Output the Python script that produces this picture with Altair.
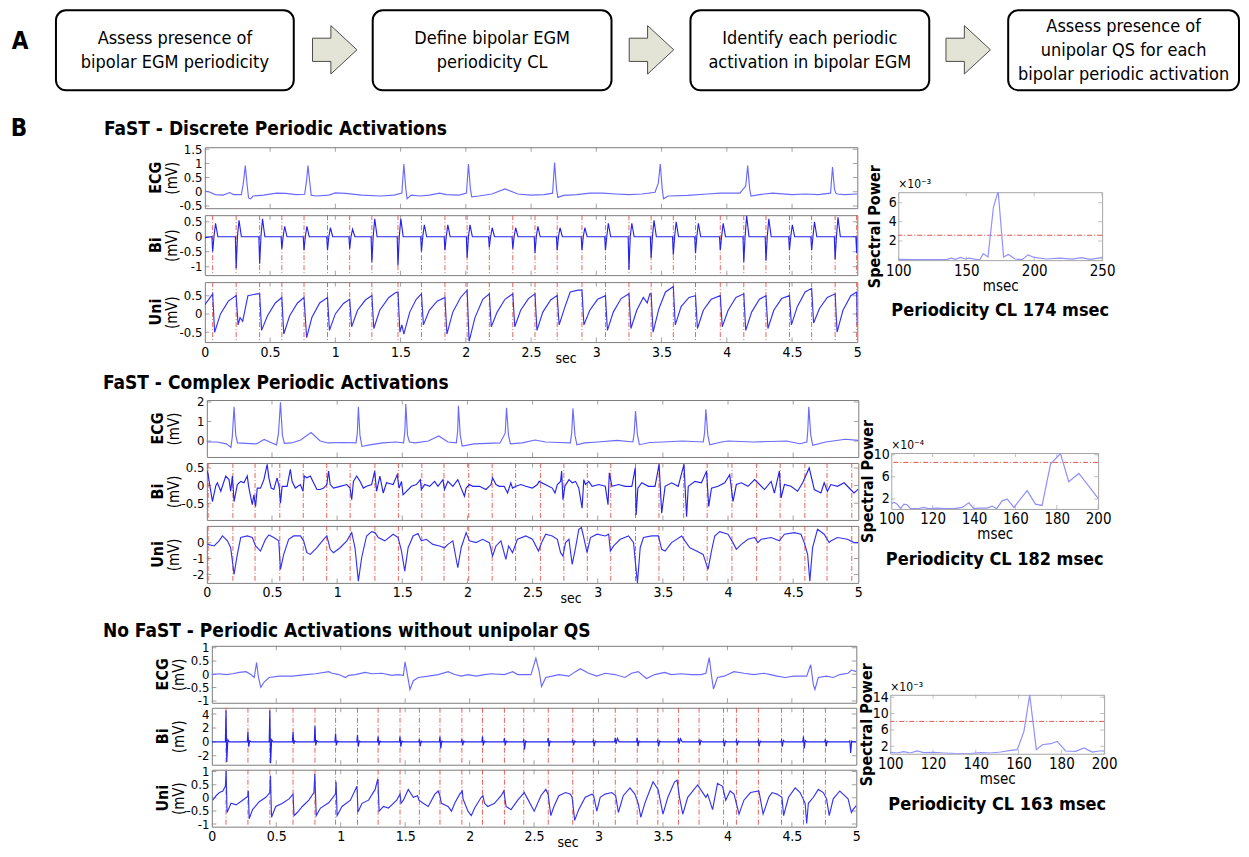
import altair as alt
import pandas as pd

FONT = "DejaVu Sans Condensed, DejaVu Sans, sans-serif"
RED = "#e5534b"
FRAME = "#7c7c7c"
SPEC_FRAME = "#a6a6a6"
MINUS = "\u2212"
LABEL_EXPR = "replace(format(datum.value, '~g'), '" + MINUS + "', '-')"

# ---------------------------------------------------------------- data
FLOW_STEPS = [
    "Assess presence of\nbipolar EGM periodicity",
    "Define bipolar EGM\nperiodicity CL",
    "Identify each periodic\nactivation in bipolar EGM",
    "Assess presence of\nunipolar QS for each\nbipolar periodic activation",
]
SECTION_TITLES = [
    "FaST - Discrete Periodic Activations",
    "FaST - Complex Periodic Activations",
    "No FaST - Periodic Activations without unipolar QS",
]
CAPTIONS = ["Periodicity CL 174 msec", "Periodicity CL 182 msec", "Periodicity CL 163 msec"]
EXPONENTS = ["\u00d710\u207b\u00b3", "\u00d710\u207b\u2074", "\u00d710\u207b\u00b3"]

X_TICKS = [0, 0.5, 1, 1.5, 2, 2.5, 3, 3.5, 4, 4.5, 5]
X_MINOR = [0.5, 1, 1.5, 2, 2.5, 3, 3.5, 4, 4.5]

# ---- Section 1 (discrete)
ACT1 = [0.06, 0.24, 0.42, 0.59, 0.76, 0.94, 1.11, 1.28, 1.48, 1.66, 1.84, 2.01, 2.18, 2.36, 2.53,
        2.70, 2.89, 3.07, 3.25, 3.42, 3.59, 3.76, 3.95, 4.13, 4.30, 4.48, 4.65, 4.83, 4.995]
ECG1 = [(0.00,0.02),(0.03,0.0),(0.08,-0.10),(0.14,-0.12),(0.19,-0.03),(0.22,-0.10),(0.28,-0.10),(0.295,0.30),
        (0.31,0.92),(0.325,0.20),(0.335,-0.22),(0.35,-0.25),(0.37,-0.15),(0.45,-0.12),(0.55,-0.05),(0.62,-0.06),
        (0.70,-0.10),(0.765,-0.09),(0.78,0.40),(0.79,0.92),(0.805,0.30),(0.815,-0.12),(0.85,-0.15),(0.95,-0.12),
        (1.00,-0.04),(1.08,-0.06),(1.20,-0.12),(1.35,-0.15),(1.45,-0.12),(1.51,-0.05),(1.525,0.98),(1.54,0.10),
        (1.55,-0.25),(1.58,-0.12),(1.65,-0.15),(1.72,-0.12),(1.80,-0.05),(1.85,-0.10),(1.95,-0.12),(2.005,-0.05),
        (2.02,0.98),(2.035,0.10),(2.045,-0.18),(2.10,-0.15),(2.20,-0.08),(2.30,0.10),(2.40,-0.08),(2.50,-0.12),
        (2.60,-0.10),(2.665,-0.05),(2.68,1.03),(2.695,0.10),(2.705,-0.20),(2.75,-0.13),(2.85,-0.10),(2.95,-0.05),
        (3.05,-0.05),(3.15,-0.08),(3.25,-0.10),(3.35,-0.08),(3.45,-0.02),(3.475,0.30),(3.49,0.98),(3.505,0.10),
        (3.515,-0.25),(3.55,-0.15),(3.70,-0.13),(3.85,-0.08),(3.95,-0.05),(4.10,-0.05),(4.145,0.20),(4.16,0.92),
        (4.175,0.10),(4.185,-0.15),(4.25,-0.10),(4.35,-0.05),(4.50,-0.10),(4.60,-0.08),(4.70,-0.10),(4.795,-0.05),
        (4.81,0.87),(4.825,0.10),(4.835,-0.05),(4.85,-0.08),(4.90,-0.10),(5.00,-0.08)]
BI1 = [(0.0,-0.03),(0.054,0.0),(0.06,-0.5),(0.07,0.0),(0.082,0.45),(0.1,0.0),
       (0.234,0.0),(0.24,-1.05),(0.25,0.0),(0.262,0.55),(0.28,0.0),
       (0.414,0.0),(0.42,-0.9),(0.43,0.0),(0.442,0.6),(0.46,0.0),
       (0.584,0.0),(0.59,-0.4),(0.60,0.0),(0.612,0.35),(0.63,0.0),
       (0.754,0.0),(0.76,-0.45),(0.77,0.0),(0.782,0.35),(0.80,0.0),
       (0.934,0.0),(0.94,-0.45),(0.95,0.0),(0.962,0.3),(0.98,0.0),
       (1.104,0.0),(1.11,-0.4),(1.12,0.0),(1.132,0.25),(1.15,0.0),
       (1.274,0.0),(1.28,-0.85),(1.29,0.0),(1.302,0.6),(1.32,0.0),
       (1.474,0.0),(1.48,-0.95),(1.49,0.0),(1.502,0.6),(1.52,0.0),
       (1.654,0.0),(1.66,-0.5),(1.67,0.0),(1.682,0.4),(1.70,0.0),
       (1.834,0.0),(1.84,-0.45),(1.85,0.0),(1.862,0.4),(1.88,0.0),
       (2.004,0.0),(2.01,-0.7),(2.02,0.0),(2.032,0.4),(2.05,0.0),
       (2.174,0.0),(2.18,-0.35),(2.19,0.0),(2.202,0.3),(2.22,0.0),
       (2.354,0.0),(2.36,-0.4),(2.37,0.0),(2.382,0.3),(2.40,0.0),
       (2.524,0.0),(2.53,-0.55),(2.54,0.0),(2.552,0.35),(2.57,0.0),
       (2.694,0.0),(2.70,-0.45),(2.71,0.0),(2.722,0.3),(2.74,0.0),
       (2.884,0.0),(2.89,-0.45),(2.90,0.0),(2.912,0.3),(2.93,0.0),
       (3.064,0.0),(3.07,-0.45),(3.08,0.0),(3.092,0.45),(3.11,0.0),
       (3.244,0.0),(3.25,-1.1),(3.26,0.0),(3.272,0.45),(3.29,0.0),
       (3.414,0.0),(3.42,-0.7),(3.43,0.0),(3.442,0.55),(3.46,0.0),
       (3.584,0.0),(3.59,-0.6),(3.60,0.0),(3.612,0.5),(3.63,0.0),
       (3.754,0.0),(3.76,-0.55),(3.77,0.0),(3.782,0.45),(3.80,0.0),
       (3.944,0.0),(3.95,-0.45),(3.96,0.0),(3.972,0.45),(3.99,0.0),
       (4.124,0.0),(4.13,-0.85),(4.14,0.0),(4.152,0.7),(4.17,0.0),
       (4.294,0.0),(4.30,-0.8),(4.31,0.0),(4.322,0.6),(4.34,0.0),
       (4.474,0.0),(4.48,-0.45),(4.49,0.0),(4.502,0.4),(4.52,0.0),
       (4.644,0.0),(4.65,-0.45),(4.66,0.0),(4.672,0.5),(4.69,0.0),
       (4.824,0.0),(4.83,-0.75),(4.84,0.0),(4.852,0.65),(4.87,0.0),
       (4.989,0.0),(4.995,-0.55),(5.0,0.0)]
UNI1 = [(0.0,0.25),(0.03,0.4),(0.06,0.55),(0.075,-0.5),(0.12,0.0),(0.18,0.35),
        (0.24,0.5),(0.255,-0.3),(0.27,-0.1),(0.29,-0.2),(0.33,0.5),(0.40,0.55),
        (0.42,0.55),(0.435,-0.45),(0.48,-0.05),(0.54,0.3),
        (0.59,0.45),(0.605,-0.55),(0.65,-0.05),(0.71,0.3),
        (0.76,0.45),(0.78,-0.65),(0.82,-0.1),(0.88,0.3),
        (0.94,0.45),(0.955,-0.45),(1.0,0.0),(1.06,0.28),
        (1.11,0.4),(1.125,-0.35),(1.17,0.1),(1.23,0.38),
        (1.28,0.5),(1.295,-0.4),(1.34,0.1),(1.41,0.45),(1.46,0.58),
        (1.48,0.6),(1.495,-0.5),(1.51,-0.3),(1.525,-0.55),(1.57,0.05),(1.62,0.4),
        (1.66,0.55),(1.675,-0.3),(1.72,0.1),(1.78,0.35),
        (1.84,0.45),(1.855,-0.55),(1.9,0.05),(1.96,0.45),
        (2.01,0.65),(2.025,-0.75),(2.07,-0.1),(2.13,0.4),
        (2.18,0.55),(2.195,-0.35),(2.24,0.05),(2.30,0.4),
        (2.36,0.55),(2.375,-0.35),(2.42,0.1),(2.48,0.42),
        (2.53,0.55),(2.545,-0.45),(2.59,0.05),(2.65,0.38),
        (2.70,0.5),(2.715,-0.3),(2.76,0.2),(2.80,0.6),(2.86,0.65),
        (2.89,0.65),(2.905,-0.3),(2.95,0.1),(3.01,0.4),
        (3.07,0.5),(3.085,-0.45),(3.13,0.05),(3.19,0.42),
        (3.25,0.55),(3.265,-0.4),(3.31,0.1),(3.36,0.45),(3.39,0.3),(3.41,0.55),
        (3.42,0.55),(3.435,-0.5),(3.48,0.15),(3.53,0.6),
        (3.59,0.75),(3.605,-0.3),(3.65,0.2),(3.71,0.45),
        (3.76,0.5),(3.775,-0.4),(3.82,0.1),(3.88,0.4),
        (3.95,0.5),(3.965,-0.35),(4.01,0.1),(4.07,0.45),
        (4.13,0.55),(4.145,-0.45),(4.19,0.05),(4.25,0.4),
        (4.30,0.5),(4.315,-0.4),(4.36,0.1),(4.42,0.42),
        (4.48,0.5),(4.495,-0.3),(4.54,0.2),(4.60,0.6),
        (4.65,0.7),(4.665,-0.25),(4.71,0.15),(4.77,0.45),
        (4.83,0.55),(4.845,-0.5),(4.89,0.1),(4.95,0.5),
        (4.995,0.6),(5.0,-0.3)]
SPEC1 = [(100,0.08),(110,0.05),(120,0.06),(130,0.05),(136,0.08),(139,0.2),(142,0.08),(146,0.28),(149,0.12),
         (152,0.2),(156,0.1),(160,0.02),(162.5,0.68),(166,0.33),(170,5.5),(173.5,7.2),(177.5,0.33),(181,0.6),
         (186,0.12),(191,0.05),(195.5,0.55),(200,0.28),(209,0.12),(219,0.2),(228,0.1),(235,0.26),(241,0.08),(250,0.26)]
THR1 = 2.6

# ---- Section 2 (complex)
ACT2 = [0.01, 0.20, 0.37, 0.56, 0.74, 0.92, 1.10, 1.29, 1.47, 1.65, 1.82, 2.01, 2.19, 2.37, 2.56,
        2.74, 2.92, 3.10, 3.29, 3.47, 3.66, 3.84, 4.03, 4.22, 4.40, 4.59, 4.76, 4.95]
ECG2 = [(0,-0.05),(0.08,-0.05),(0.15,-0.15),(0.185,-0.33),(0.195,0.2),(0.209,1.75),(0.222,0.3),(0.235,-0.1),
        (0.3,-0.12),(0.38,-0.15),(0.44,0.08),(0.5,-0.1),(0.535,-0.2),(0.55,0.4),(0.565,1.98),(0.58,0.3),
        (0.595,-0.12),(0.65,-0.1),(0.72,0.05),(0.8,0.43),(0.87,0.0),(0.93,-0.1),(1.05,-0.08),(1.145,-0.1),
        (1.155,0.4),(1.163,1.75),(1.175,0.3),(1.19,-0.28),(1.25,-0.2),(1.35,-0.1),(1.45,-0.05),(1.51,-0.1),
        (1.52,0.5),(1.527,1.9),(1.54,0.3),(1.555,-0.05),(1.6,-0.1),(1.7,0.0),(1.78,0.26),(1.85,-0.05),
        (1.915,-0.1),(1.925,0.5),(1.931,1.8),(1.945,0.3),(1.96,-0.26),(2.05,-0.15),(2.15,-0.12),(2.25,-0.1),
        (2.29,0.4),(2.30,1.7),(2.315,0.3),(2.33,-0.15),(2.42,-0.1),(2.52,0.05),(2.6,-0.05),(2.7,-0.08),
        (2.79,-0.1),(2.80,0.4),(2.81,1.67),(2.825,0.3),(2.84,-0.19),(2.9,-0.1),(3.0,-0.05),(3.15,0.03),
        (3.27,-0.05),(3.28,0.4),(3.29,1.53),(3.305,0.3),(3.32,-0.19),(3.4,-0.08),(3.5,-0.05),(3.65,0.0),
        (3.81,-0.05),(3.82,0.4),(3.83,1.63),(3.845,0.3),(3.86,-0.19),(3.95,-0.05),(4.0,0.0),(4.2,-0.05),
        (4.45,0.0),(4.55,-0.14),(4.605,-0.05),(4.612,0.5),(4.62,1.75),(4.635,0.3),(4.65,-0.22),(4.75,-0.05),
        (4.9,0.09),(5.0,0.03)]
BI2 = [(0.005,0.41),(0.043,-0.45),(0.069,0.0),(0.081,0.08),(0.107,-0.16),(0.145,0.27),(0.170,0.17),(0.183,-0.16),
       (0.196,0.27),(0.209,-0.45),(0.234,0.03),(0.260,0.12),(0.285,0.08),(0.310,0.27),(0.323,-0.07),(0.349,-0.54),
       (0.361,-0.26),(0.374,-0.59),(0.387,-0.07),(0.412,-0.07),(0.438,0.17),(0.463,0.60),(0.476,0.22),(0.494,-0.07),
       (0.514,-0.11),(0.539,0.22),(0.557,-0.07),(0.565,-0.50),(0.578,-0.02),(0.616,-0.02),(0.641,0.46),(0.654,0.12),
       (0.679,-0.07),(0.718,0.03),(0.738,-0.16),(0.748,0.27),(0.768,0.22),(0.794,0.27),(0.819,0.08),(0.845,-0.11),
       (0.870,-0.11),(0.896,-0.07),(0.921,0.03),(0.934,0.41),(0.947,0.03),(0.972,-0.07),(1.023,-0.02),(1.074,0.03),
       (1.099,-0.07),(1.112,-0.40),(1.125,0.12),(1.150,0.27),(1.176,0.12),(1.201,-0.07),(1.226,-0.02),(1.265,0.03),
       (1.288,0.41),(1.303,-0.16),(1.328,0.27),(1.354,-0.21),(1.379,0.08),(1.430,0.03),(1.461,0.31),(1.476,-0.07),
       (1.494,0.12),(1.506,-0.26),(1.532,-0.16),(1.570,-0.02),(1.608,0.03),(1.639,0.17),(1.646,-0.11),(1.672,0.03),
       (1.710,-0.02),(1.748,0.12),(1.774,-0.02),(1.812,0.17),(1.824,-0.11),(1.850,0.12),(1.888,-0.02),(1.926,0.17),
       (1.952,-0.07),(1.977,-0.30),(1.990,-0.07),(2.015,0.03),(2.041,-0.02),(2.092,-0.02),(2.142,-0.11),(2.181,0.03),
       (2.193,0.22),(2.219,0.03),(2.244,-0.02),(2.282,-0.02),(2.308,-0.21),(2.333,0.08),(2.346,-0.07),(2.372,-0.02),
       (2.410,0.03),(2.448,-0.02),(2.499,-0.07),(2.537,0.03),(2.550,0.12),(2.651,-0.07),(2.672,-0.21),(2.690,0.03),
       (2.715,0.12),(2.723,0.41),(2.733,-0.40),(2.748,-0.02),(2.779,0.17),(2.804,0.08),(2.830,0.12),(2.855,-0.07),
       (2.880,-0.64),(2.893,0.17),(2.906,0.03),(2.931,0.12),(2.957,-0.02),(3.008,0.03),(3.058,-0.02),(3.079,-0.54),
       (3.089,0.36),(3.109,-0.02),(3.160,0.03),(3.211,-0.02),(3.262,-0.02),(3.288,0.50),(3.295,-0.83),(3.308,-0.07),
       (3.338,0.08),(3.389,-0.02),(3.440,-0.02),(3.471,0.60),(3.491,-0.78),(3.517,-0.02),(3.567,0.08),(3.618,-0.02),
       (3.662,0.60),(3.682,-0.88),(3.695,-0.02),(3.746,0.12),(3.796,0.08),(3.835,0.41),(3.852,-0.59),(3.873,-0.07),
       (3.924,-0.02),(3.975,0.08),(4.013,0.31),(4.038,-0.45),(4.064,0.03),(4.102,0.08),(4.153,-0.02),(4.204,0.17),
       (4.229,0.08),(4.280,-0.11),(4.331,0.12),(4.356,-0.21),(4.394,0.41),(4.407,-0.35),(4.433,0.03),(4.483,-0.02),
       (4.534,-0.16),(4.573,0.08),(4.623,0.50),(4.662,-0.11),(4.713,-0.21),(4.738,0.08),(4.763,-0.16),(4.789,0.03),
       (4.840,-0.02),(4.891,0.08),(4.941,-0.11),(4.967,-0.21),(5.0,-0.1)]
UNI2 = [(0.005,-0.11),(0.056,-0.21),(0.094,0.11),(0.120,0.42),(0.158,0.11),(0.183,-0.32),(0.209,-2.0),(0.234,-0.74),
        (0.260,0.32),(0.310,0.42),(0.349,0.32),(0.374,-0.21),(0.412,-0.53),(0.450,0.21),(0.476,0.48),(0.514,0.32),
        (0.552,0.11),(0.565,-1.68),(0.590,-0.74),(0.628,0.21),(0.667,0.42),(0.718,0.42),(0.743,0.11),(0.768,-0.63),
        (0.794,-0.74),(0.845,-0.32),(0.896,0.21),(0.921,0.42),(0.947,-0.42),(0.972,-0.63),(1.023,-0.32),(1.074,0.11),
        (1.112,0.63),(1.137,-0.32),(1.163,-2.42),(1.188,-0.95),(1.226,0.42),(1.265,0.69),(1.290,0.63),(1.316,0.32),
        (1.366,0.11),(1.430,0.53),(1.468,0.32),(1.494,-0.53),(1.519,-1.79),(1.545,-0.32),(1.583,0.42),(1.621,0.57),
        (1.646,0.11),(1.684,0.21),(1.735,-0.11),(1.786,-0.21),(1.824,-0.32),(1.850,-0.11),(1.888,0.11),(1.926,-1.58),
        (1.952,-0.32),(1.990,0.63),(2.015,0.11),(2.066,0.0),(2.117,0.21),(2.168,0.0),(2.193,-0.84),(2.219,-0.21),
        (2.257,0.11),(2.295,-1.05),(2.316,-0.21),(2.346,-0.63),(2.384,0.21),(2.448,0.42),(2.499,0.21),(2.545,-0.53),
        (2.575,0.11),(2.601,0.53),(2.651,0.42),(2.690,0.21),(2.715,-0.63),(2.733,-0.84),(2.753,0.0),(2.779,0.21),
        (2.804,-1.37),(2.830,-0.32),(2.855,0.84),(2.875,0.95),(2.893,0.32),(2.918,-0.63),(2.944,0.32),(2.995,0.53),
        (3.058,0.42),(3.084,0.53),(3.097,-0.53),(3.122,-0.21),(3.173,0.21),(3.237,0.42),(3.275,0.0),(3.288,-1.16),
        (3.305,-2.53),(3.326,-0.32),(3.351,0.32),(3.415,0.42),(3.466,0.42),(3.491,-0.42),(3.517,-0.53),(3.567,0.0),
        (3.644,0.42),(3.669,0.11),(3.707,-0.32),(3.758,-0.53),(3.809,-0.74),(3.847,-1.68),(3.873,-0.53),(3.898,0.42),
        (3.936,0.69),(4.000,0.53),(4.038,0.0),(4.064,-0.42),(4.102,-0.11),(4.153,0.21),(4.204,0.32),(4.229,0.0),
        (4.254,0.21),(4.331,0.32),(4.394,0.11),(4.433,0.53),(4.509,0.63),(4.560,0.53),(4.585,0.0),(4.611,-0.74),
        (4.628,-2.42),(4.649,-0.32),(4.687,0.84),(4.738,0.53),(4.776,0.0),(4.789,0.11),(4.840,0.32),(4.916,0.21),
        (4.967,0.0),(5.0,0.0)]
SPEC2 = [(100,1.07),(101.3,1.42),(102.9,1.07),(104.5,0.24),(106.1,1.07),(107.7,0.95),(109.3,0.24),(112.6,0.24),
         (115.8,0.47),(118.2,0.24),(122.2,0.36),(126.2,0.24),(130.3,0.24),(134.3,0.47),(137.5,1.3),(139.9,0.24),
         (142.4,0.36),(146.4,0.36),(148.8,0.71),(150.9,0.24),(153.6,1.66),(156.0,2.0),(159.3,0.47),(162.5,2.0),
         (165.7,3.5),(169.7,1.07),(172.9,0.83),(177.0,8.3),(181.8,10.2),(185.8,5.1),(190.7,6.6),(200,2.1)]
THR2 = 8.6

# ---- Section 3 (no FaST)
ACT3 = [0.11, 0.28, 0.45, 0.63, 0.80, 0.96, 1.13, 1.29, 1.46, 1.61, 1.77, 1.94, 2.10, 2.27, 2.42,
        2.61, 2.80, 2.96, 3.13, 3.30, 3.46, 3.62, 3.78, 3.97, 4.07, 4.24, 4.42, 4.59, 4.76]
ECG3 = [(0.0,-0.01),(0.059,0.02),(0.111,-0.01),(0.162,0.02),(0.213,0.07),(0.265,0.1),(0.303,-0.01),(0.329,-0.12),
        (0.347,0.44),(0.362,-0.12),(0.380,-0.49),(0.406,-0.29),(0.445,-0.12),(0.522,-0.07),(0.625,-0.07),(0.728,-0.01),
        (0.805,0.02),(0.907,0.1),(0.933,0.04),(0.985,-0.01),(1.036,-0.12),(1.062,-0.04),(1.113,-0.01),(1.190,0.07),
        (1.242,0.02),(1.319,0.04),(1.396,-0.04),(1.447,-0.01),(1.486,-0.04),(1.499,0.47),(1.519,-0.07),(1.537,-0.57),
        (1.563,-0.24),(1.602,-0.12),(1.679,-0.07),(1.756,-0.01),(1.833,0.1),(1.884,-0.01),(1.936,-0.07),(1.987,-0.01),
        (2.051,-0.07),(2.116,-0.01),(2.167,0.02),(2.270,-0.01),(2.334,0.1),(2.373,-0.01),(2.476,-0.01),(2.514,0.61),
        (2.540,0.1),(2.558,-0.46),(2.591,-0.12),(2.641,-0.07),(2.692,-0.01),(2.769,-0.07),(2.821,0.1),(2.859,0.21),
        (2.923,0.04),(2.987,-0.07),(3.051,0.04),(3.128,-0.01),(3.205,-0.12),(3.256,0.04),(3.308,0.1),(3.372,-0.16),
        (3.436,-0.01),(3.513,0.07),(3.564,-0.01),(3.641,0.02),(3.718,-0.01),(3.795,-0.01),(3.833,0.04),(3.859,0.63),
        (3.877,-0.07),(3.892,-0.55),(3.923,-0.12),(3.974,-0.07),(4.051,0.1),(4.128,0.04),(4.205,-0.01),(4.282,0.04),
        (4.333,-0.01),(4.385,-0.07),(4.449,-0.12),(4.513,-0.07),(4.615,-0.07),(4.646,0.36),(4.667,-0.4),(4.679,-0.57),
        (4.705,-0.12),(4.769,-0.07),(4.821,-0.12),(4.872,-0.01),(4.936,0.04),(4.962,0.16),(5.0,0.1)]
BI3 = [(0.0,0.0),
       (0.105,0.0),(0.11,4.5),(0.116,-2.9),(0.124,0.3),(0.135,0.0),
       (0.275,0.0),(0.28,1.4),(0.286,-0.7),(0.294,0.15),(0.305,0.0),
       (0.445,0.0),(0.45,4.5),(0.456,-3.1),(0.464,0.3),(0.475,0.0),
       (0.625,0.0),(0.63,1.4),(0.636,-0.3),(0.644,0.1),(0.655,0.0),
       (0.795,0.0),(0.80,2.3),(0.806,-0.5),(0.814,0.15),(0.825,0.0),
       (0.955,0.0),(0.96,1.2),(0.966,-0.5),(0.974,0.1),(0.985,0.0),
       (1.125,0.0),(1.13,1.0),(1.136,-0.7),(1.144,0.1),(1.155,0.0),
       (1.285,0.0),(1.29,0.8),(1.296,-0.5),(1.304,0.1),(1.315,0.0),
       (1.455,0.0),(1.46,0.8),(1.466,-0.7),(1.474,0.1),(1.485,0.0),
       (1.605,0.0),(1.61,0.35),(1.616,-0.65),(1.624,0.1),(1.635,0.0),
       (1.765,0.0),(1.77,0.8),(1.776,-0.95),(1.784,0.1),(1.795,0.0),
       (1.935,0.0),(1.94,0.35),(1.946,-0.5),(1.954,0.1),(1.965,0.0),
       (2.095,0.0),(2.10,0.8),(2.106,-0.5),(2.114,0.1),(2.125,0.0),
       (2.265,0.0),(2.27,0.55),(2.276,-0.5),(2.284,0.1),(2.295,0.0),
       (2.415,0.0),(2.42,0.35),(2.426,-1.1),(2.434,0.1),(2.445,0.0),
       (2.605,0.0),(2.61,0.55),(2.616,-0.7),(2.624,0.1),(2.635,0.0),
       (2.795,0.0),(2.80,0.3),(2.806,-0.5),(2.814,0.1),(2.825,0.0),
       (2.955,0.0),(2.96,0.2),(2.966,-0.65),(2.974,0.1),(2.985,0.0),
       (3.125,0.0),(3.13,0.57),(3.136,-0.3),(3.146,0.5),(3.16,0.0),
       (3.295,0.0),(3.30,0.57),(3.306,-0.65),(3.314,0.1),(3.325,0.0),
       (3.455,0.0),(3.46,0.2),(3.466,-0.65),(3.474,0.1),(3.485,0.0),
       (3.615,0.0),(3.62,0.57),(3.626,-0.3),(3.636,0.45),(3.65,0.0),
       (3.775,0.0),(3.78,0.2),(3.786,-0.5),(3.794,0.2),(3.805,0.0),
       (3.965,0.0),(3.97,0.2),(3.976,-0.65),(3.984,0.1),(3.995,0.0),
       (4.065,0.0),(4.07,0.2),(4.076,-0.5),(4.084,0.1),(4.095,0.0),
       (4.235,0.0),(4.24,0.2),(4.246,-0.65),(4.254,0.1),(4.265,0.0),
       (4.415,0.0),(4.42,0.2),(4.426,-0.7),(4.434,0.2),(4.445,0.0),
       (4.585,0.0),(4.59,0.8),(4.596,-0.95),(4.604,0.2),(4.615,0.0),
       (4.755,0.0),(4.76,0.35),(4.766,-0.65),(4.774,0.1),(4.785,0.0),
       (4.945,0.0),(4.95,0.2),(4.956,-1.6),(4.964,0.1),(4.975,0.0),
       (5.0,0.0)]
UNI3 = [(0.008,-0.09),(0.033,0.08),(0.059,0.20),(0.085,0.26),(0.105,0.44),(0.111,1.02),(0.118,-0.56),(0.149,-0.21),
        (0.188,-0.27),(0.239,-0.09),(0.278,0.05),(0.283,0.26),(0.290,-0.80),(0.316,-0.45),(0.368,-0.15),(0.419,0.02),
        (0.450,0.20),(0.455,0.85),(0.463,-0.74),(0.496,-0.33),(0.548,-0.21),(0.599,-0.04),(0.630,0.14),(0.638,-0.68),
        (0.663,-0.56),(0.702,-0.33),(0.753,-0.09),(0.792,0.20),(0.799,0.91),(0.810,-0.68),(0.843,-0.39),(0.907,-0.19),
        (0.959,0.14),(0.964,0.61),(0.972,-0.68),(1.010,-0.33),(1.075,-0.09),(1.126,0.44),(1.134,-0.54),(1.165,-0.21),
        (1.216,-0.09),(1.267,0.32),(1.288,0.73),(1.298,-0.51),(1.332,-0.33),(1.370,-0.39),(1.409,-0.21),(1.434,-0.09),
        (1.460,0.14),(1.468,-0.21),(1.486,-0.09),(1.524,0.32),(1.563,0.02),(1.596,0.08),(1.607,-0.09),(1.640,-0.21),
        (1.679,-0.33),(1.730,0.14),(1.756,0.26),(1.769,0.08),(1.781,-0.21),(1.833,-0.33),(1.859,-0.51),(1.884,-0.21),
        (1.923,0.14),(1.943,0.26),(1.949,-0.04),(1.987,-0.51),(2.013,-0.68),(2.039,-0.39),(2.090,0.02),(2.103,0.08),
        (2.116,-0.21),(2.141,-0.33),(2.193,-0.21),(2.244,0.08),(2.265,0.26),(2.283,-0.33),(2.321,-0.45),(2.373,-0.09),
        (2.424,0.20),(2.450,-0.04),(2.501,-0.51),(2.553,0.08),(2.591,0.32),(2.609,0.14),(2.630,-0.68),(2.654,-0.33),
        (2.692,0.08),(2.744,0.20),(2.782,0.14),(2.795,0.02),(2.815,-0.86),(2.846,-0.45),(2.897,0.02),(2.949,0.14),
        (2.962,0.08),(2.987,-0.51),(3.013,0.02),(3.051,0.14),(3.103,0.20),(3.133,0.08),(3.154,-0.56),(3.192,0.08),
        (3.244,0.38),(3.282,0.14),(3.308,-0.21),(3.328,-0.74),(3.359,-0.21),(3.410,0.44),(3.423,0.61),(3.462,0.32),
        (3.500,-0.62),(3.538,0.02),(3.590,0.61),(3.610,0.67),(3.628,0.02),(3.654,-0.62),(3.692,0.02),(3.769,0.49),
        (3.808,0.20),(3.833,0.02),(3.846,0.14),(3.885,-0.45),(3.923,0.55),(3.962,0.44),(3.987,-0.09),(4.021,0.26),
        (4.051,0.14),(4.090,-0.62),(4.128,-0.09),(4.179,0.20),(4.244,0.26),(4.277,-0.62),(4.321,0.02),(4.346,0.20),
        (4.385,0.14),(4.423,0.02),(4.436,-0.68),(4.474,0.02),(4.526,0.38),(4.564,0.20),(4.603,-0.21),(4.615,-0.98),
        (4.628,-0.21),(4.667,0.02),(4.705,0.32),(4.744,0.20),(4.769,-0.04),(4.790,-0.68),(4.821,-0.04),(4.872,0.26),
        (4.897,0.14),(4.936,-0.04),(4.962,-0.56),(4.974,-0.45),(5.0,-0.3)]
SPEC3 = [(100,0.54),(103.1,0.38),(106.3,0.71),(109.4,0.38),(112.5,0.87),(115.6,0.46),(120.3,0.54),(125,0.38),
         (131.3,0.22),(137.5,0.22),(142.2,0.46),(146.9,0.38),(151.6,0.62),(156.3,1.03),(159.4,1.19),(162.5,5.65),
         (165.2,14.6),(168.3,1.19),(171.1,2.4),(175,2.65),(178.1,3.2),(182,0.87),(186.7,0.79),(190.6,1.6),
         (194.5,0.62),(197.7,0.87),(200,0.87)]
THR3 = 8.1

# ---------------------------------------------------------------- layout
HDR_W, HDR_H = 1232, 128
BOX_X0 = [47, 364, 682, 1000]
BOX_X1 = [285, 603, 921, 1231]
BOX_Y0, BOX_Y1, TEXT_Y, LINE_H = 0, 80, 41, 24
ARROW_X, ARROW_Y = [326, 643, 960], 39.5
ARROW_PATH = "M-0.92,-0.48L-0.16,-0.48L-0.16,-1L0.92,0L-0.16,1L-0.16,0.48L-0.92,0.48Z"
LETTER_A, LETTER_B, TITLE1_POS = (11, 32), (10, 119), (95, 119)


def spacer(w, h):
    return alt.Chart(pd.DataFrame({"z": [0]})).mark_point(opacity=0, size=1).encode(
        x=alt.value(0), y=alt.value(0)
    ).properties(width=w, height=h, view=alt.ViewBackground(stroke="transparent"))


def header():
    hx = alt.Scale(domain=[0, HDR_W], nice=False, zero=False)
    hy = alt.Scale(domain=[0, HDR_H], nice=False, zero=False, reverse=True)
    boxes = pd.DataFrame({"x0": BOX_X0, "x1": BOX_X1, "label": FLOW_STEPS})
    boxes["y0"] = BOX_Y0
    boxes["y1"] = BOX_Y1
    boxes["xc"] = (boxes["x0"] + boxes["x1"]) / 2
    nlines = boxes["label"].str.count("\n")
    boxes["yc"] = TEXT_Y - nlines * LINE_H / 2
    rect = alt.Chart(boxes).mark_rect(cornerRadius=10, fill="white", stroke="black", strokeWidth=2).encode(
        x=alt.X("x0:Q", scale=hx, axis=None), x2="x1:Q",
        y=alt.Y("y0:Q", scale=hy, axis=None), y2="y1:Q")
    txt = alt.Chart(boxes).mark_text(fontSize=18, lineBreak="\n", lineHeight=LINE_H, color="black",
                                     baseline="middle", align="center").encode(
        x=alt.X("xc:Q", scale=hx, axis=None), y=alt.Y("yc:Q", scale=hy, axis=None), text="label:N")
    arr = pd.DataFrame({"xc": ARROW_X, "yc": [ARROW_Y] * len(ARROW_X)})
    arrows = alt.Chart(arr).mark_point(shape=ARROW_PATH, size=2343, filled=True, fill="#e4e4d6",
                                        stroke="#4a4a4a", strokeWidth=1, opacity=1).encode(
        x=alt.X("xc:Q", scale=hx, axis=None), y=alt.Y("yc:Q", scale=hy, axis=None))
    letters = pd.DataFrame({"xc": [LETTER_A[0], LETTER_B[0]], "yc": [LETTER_A[1], LETTER_B[1]], "s": ["A", "B"]})
    let = alt.Chart(letters).mark_text(fontSize=24, fontWeight="bold", color="black", baseline="middle",
                                       align="center").encode(
        x=alt.X("xc:Q", scale=hx, axis=None), y=alt.Y("yc:Q", scale=hy, axis=None), text="s:N")
    t1 = pd.DataFrame({"xc": [TITLE1_POS[0]], "yc": [TITLE1_POS[1]], "s": [SECTION_TITLES[0]]})
    title1 = alt.Chart(t1).mark_text(fontSize=19, fontWeight="bold", color="black", baseline="middle",
                                     align="left").encode(
        x=alt.X("xc:Q", scale=hx, axis=None), y=alt.Y("yc:Q", scale=hy, axis=None), text="s:N")
    return alt.layer(rect, arrows, txt, let, title1).properties(
        width=HDR_W, height=HDR_H, view=alt.ViewBackground(stroke="transparent"))


def trace(points, ydom, yticks, name, width, height, color, acts=None, xaxis=False, title_x=360):
    xs = alt.Scale(domain=[0, 5], nice=False, zero=False)
    ys = alt.Scale(domain=ydom, nice=False, zero=False)
    yax = alt.Axis(values=yticks, labelExpr=LABEL_EXPR, ticks=False, domain=False, grid=False,
                   title="(mV)", titleFontWeight="normal", titleFontSize=15, labelFontSize=13,
                   titlePadding=1, labelPadding=3, minExtent=24, maxExtent=24)
    if xaxis:
        xax = alt.Axis(values=X_TICKS, labelExpr=LABEL_EXPR, ticks=False, domain=False, grid=False,
                       labelFlush=False, labelFontSize=14, labelPadding=3, title="sec",
                       titleFontWeight="normal", titleFontSize=14, titleX=title_x, titleY=16,
                       titleAlign="center", titleBaseline="middle")
    else:
        xax = None
    layers = []
    if acts is not None:
        layers.append(alt.Chart(pd.DataFrame({"t": acts})).mark_rule(
            color=RED, strokeWidth=1, strokeDash=[5, 2, 1, 2], opacity=0.9).encode(
            x=alt.X("t:Q", scale=xs, axis=xax)))
    vt = pd.DataFrame([(x, ydom[0]) for x in X_MINOR] + [(x, ydom[1]) for x in X_MINOR], columns=["t", "v"])
    ht = pd.DataFrame([(0, y) for y in yticks] + [(5, y) for y in yticks], columns=["t", "v"])
    layers.append(alt.Chart(vt).mark_tick(orient="vertical", size=9, thickness=1, color=FRAME, clip=True).encode(
        x=alt.X("t:Q", scale=xs, axis=xax), y=alt.Y("v:Q", scale=ys, axis=yax)))
    layers.append(alt.Chart(ht).mark_tick(orient="horizontal", size=9, thickness=1, color=FRAME, clip=True).encode(
        x=alt.X("t:Q", scale=xs, axis=xax), y=alt.Y("v:Q", scale=ys, axis=yax)))
    df = pd.DataFrame(points, columns=["t", "v"])
    layers.append(alt.Chart(df).mark_line(color=color, strokeWidth=1.15, clip=True).encode(
        x=alt.X("t:Q", scale=xs, axis=xax), y=alt.Y("v:Q", scale=ys, axis=yax)))
    return alt.layer(*layers).properties(
        width=width, height=height,
        title=alt.TitleParams(name, orient="left", anchor="middle", fontSize=16, fontWeight="bold", offset=1))


def spectrum(points, xdom, xticks, ydom, yticks, thr, expo, caption, width, height):
    xs = alt.Scale(domain=xdom, nice=False, zero=False)
    ys = alt.Scale(domain=ydom, nice=False, zero=False)
    xax = alt.Axis(values=xticks, ticks=False, domain=False, grid=False, labelFlush=False, labelFontSize=15,
                   labelPadding=3, title="msec", titleFontSize=15, titleFontWeight="normal", titlePadding=0)
    yax = alt.Axis(values=yticks, ticks=False, domain=False, grid=False, labelFontSize=14, labelPadding=2,
                   title="Spectral Power", titleFontSize=16, titleFontWeight="bold", titlePadding=2,
                   minExtent=14, maxExtent=14)
    vt = pd.DataFrame([(x, ydom[0]) for x in xticks] + [(x, ydom[1]) for x in xticks], columns=["ms", "p"])
    ht = pd.DataFrame([(xdom[0], y) for y in yticks] + [(xdom[1], y) for y in yticks], columns=["ms", "p"])
    ticks_v = alt.Chart(vt).mark_tick(orient="vertical", size=8, thickness=1, color=SPEC_FRAME, clip=True).encode(
        x=alt.X("ms:Q", scale=xs, axis=xax), y=alt.Y("p:Q", scale=ys, axis=yax))
    ticks_h = alt.Chart(ht).mark_tick(orient="horizontal", size=8, thickness=1, color=SPEC_FRAME, clip=True).encode(
        x=alt.X("ms:Q", scale=xs, axis=xax), y=alt.Y("p:Q", scale=ys, axis=yax))
    rule = alt.Chart(pd.DataFrame({"p": [thr]})).mark_rule(color=RED, strokeWidth=1, strokeDash=[5, 2, 1, 2]).encode(
        y=alt.Y("p:Q", scale=ys, axis=yax))
    df = pd.DataFrame(points, columns=["ms", "p"])
    line = alt.Chart(df).mark_line(color="#9090ff", strokeWidth=1.2, clip=True).encode(
        x=alt.X("ms:Q", scale=xs, axis=xax), y=alt.Y("p:Q", scale=ys, axis=yax))
    ex = pd.DataFrame({"ms": [xdom[0]], "p": [ydom[1]], "s": [expo]})
    etext = alt.Chart(ex).mark_text(align="left", baseline="bottom", dy=-1, fontSize=12, color="black").encode(
        x=alt.X("ms:Q", scale=xs, axis=xax), y=alt.Y("p:Q", scale=ys, axis=yax), text="s:N")
    return alt.layer(ticks_v, ticks_h, rule, line, etext).properties(
        width=width, height=height, view=alt.ViewBackground(stroke=SPEC_FRAME),
        title=alt.TitleParams(caption, orient="bottom", anchor="middle", fontSize=18, fontWeight="bold", offset=9))


def section(traces, spec, left_w, mid_w, top_h, bot_h, sp, gap=0):
    col = alt.vconcat(*traces, spacing=sp, bounds="flush")
    right_items = [spacer(10, top_h), spec]
    if bot_h:
        right_items.append(spacer(10, bot_h))
    right = alt.vconcat(*right_items, spacing=0, bounds="flush")
    items = [spacer(left_w, 10), col]
    if mid_w:
        items.append(spacer(mid_w, 10))
    items.append(right)
    return alt.hconcat(*items, spacing=gap)


BLUE_ECG, BLUE_BI, BLUE_UNI = "#6a6aff", "#2424ee", "#3434f2"

s1 = section([
    trace(ECG1, [-0.58, 1.57], [-0.5, 0, 0.5, 1, 1.5], "ECG", 653, 61, BLUE_ECG),
    trace(BI1, [-1.28, 0.72], [-1, -0.5, 0, 0.5], "Bi", 653, 60, BLUE_BI, acts=ACT1),
    trace(UNI1, [-0.77, 0.87], [-0.5, 0, 0.5], "Uni", 653, 60, BLUE_UNI, acts=ACT1, xaxis=True, title_x=361),
], spectrum(SPEC1, [100, 250], [100, 150, 200, 250], [0, 7.1], [2, 4, 6], THR1, EXPONENTS[0], CAPTIONS[0], 204, 68),
    left_w=137, mid_w=1, top_h=45, bot_h=113, sp=7)

s2 = section([
    trace(ECG2, [-0.82, 2.1], [0, 1, 2], "ECG", 652, 57, BLUE_ECG),
    trace(BI2, [-0.97, 0.64], [-0.5, 0, 0.5], "Bi", 652, 57, BLUE_BI, acts=ACT2),
    trace(UNI2, [-2.53, 1.05], [-2, -1, 0], "Uni", 652, 57, BLUE_UNI, acts=ACT2, xaxis=True, title_x=364),
], spectrum(SPEC2, [100, 200], [100, 120, 140, 160, 180, 200], [0.2, 10.3], [2, 6, 10], THR2, EXPONENTS[1],
            CAPTIONS[1], 207, 56),
    left_w=144, mid_w=0, top_h=53, bot_h=112, sp=6, gap=-5).properties(
    title=alt.TitleParams(SECTION_TITLES[1], anchor="start", fontSize=19, fontWeight="bold", dx=95, offset=2))

s3 = section([
    trace(ECG3, [-1.07, 1.07], [-1, -0.5, 0, 0.5, 1], "ECG", 645, 57, BLUE_ECG),
    trace(BI3, [-3.3, 4.9], [-2, 0, 2, 4], "Bi", 645, 57, BLUE_BI, acts=ACT3),
    trace(UNI3, [-1.1, 1.07], [-1, -0.5, 0, 0.5, 1], "Uni", 645, 57, BLUE_UNI, acts=ACT3, xaxis=True, title_x=356),
], spectrum(SPEC3, [100, 200], [100, 120, 140, 160, 180, 200], [0.2, 14.6], [2, 6, 10, 14], THR3, EXPONENTS[2],
            CAPTIONS[2], 214, 59),
    left_w=148, mid_w=0, top_h=49, bot_h=0, sp=5, gap=-4).properties(
    title=alt.TitleParams(SECTION_TITLES[2], anchor="start", fontSize=19, fontWeight="bold", dx=95, offset=0))

chart = alt.vconcat(header(), s1, s2, s3, spacing=0).properties(
    padding=0, background="white"
).configure(font=FONT).configure_view(stroke=FRAME, strokeWidth=1).configure_axis(
    labelColor="black", titleColor="black", labelFont=FONT, titleFont=FONT
).configure_title(font=FONT, color="black")

chart.save("out.html", embed_options={"renderer": "svg", "actions": False})
